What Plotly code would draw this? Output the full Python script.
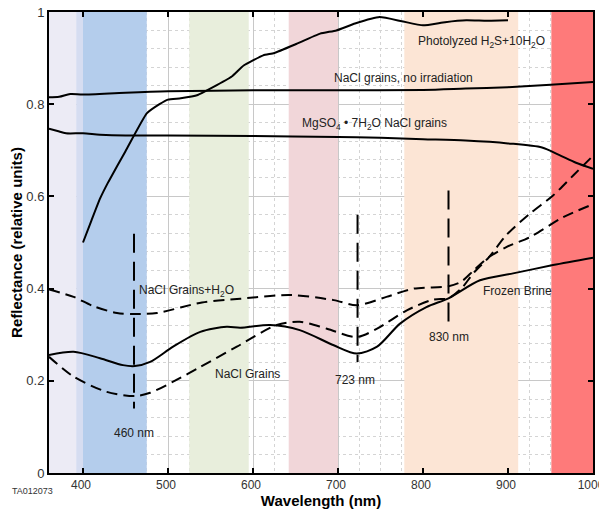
import plotly.graph_objects as go

# ---- data (wavelength nm, reflectance) ----
wl_noirr = [360, 372, 385, 400, 450, 500, 600, 700, 800, 850, 900, 950, 1000]
r_noirr = [0.815, 0.816, 0.822, 0.821, 0.825, 0.828, 0.830, 0.830, 0.831, 0.834, 0.837, 0.842, 0.848]

wl_mgso4 = [360, 370, 380, 400, 420, 450, 500, 600, 700, 750, 800, 850, 900, 940, 960, 980, 1000]
r_mgso4 = [0.747, 0.742, 0.737, 0.737, 0.734, 0.732, 0.732, 0.731, 0.729, 0.727, 0.724, 0.721, 0.715, 0.706, 0.690, 0.673, 0.660]

wl_h2s = [400, 410, 420, 430, 450, 475, 490, 500, 515, 535, 553, 575, 589, 612, 625, 650, 679, 698, 720, 749, 775, 800, 826, 851, 875, 900]
r_h2s = [0.500, 0.548, 0.595, 0.632, 0.698, 0.780, 0.800, 0.810, 0.813, 0.820, 0.837, 0.860, 0.884, 0.906, 0.911, 0.930, 0.953, 0.960, 0.975, 0.989, 0.980, 0.971, 0.978, 0.982, 0.981, 0.982]

wl_grains_h2o = [360, 389, 412, 440, 461, 487, 540, 585, 644, 695, 722, 757, 789, 830, 845, 860, 878, 898, 926, 965, 1000]
r_grains_h2o = [0.398, 0.382, 0.362, 0.347, 0.345, 0.347, 0.370, 0.378, 0.386, 0.375, 0.364, 0.382, 0.400, 0.405, 0.415, 0.440, 0.469, 0.490, 0.512, 0.555, 0.583]

wl_grains = [360, 389, 428, 461, 479, 506, 538, 581, 628, 655, 687, 722, 746, 781, 812, 830, 845, 860, 878, 898, 926, 953, 977, 1000]
r_grains = [0.252, 0.209, 0.176, 0.167, 0.174, 0.198, 0.230, 0.274, 0.321, 0.328, 0.313, 0.295, 0.313, 0.353, 0.376, 0.379, 0.400, 0.435, 0.469, 0.516, 0.563, 0.602, 0.646, 0.688]

wl_brine = [360, 389, 420, 447, 461, 479, 506, 538, 569, 585, 620, 655, 695, 722, 746, 773, 804, 830, 867, 906, 953, 1000]
r_brine = [0.256, 0.263, 0.249, 0.234, 0.232, 0.241, 0.274, 0.306, 0.317, 0.315, 0.321, 0.310, 0.277, 0.259, 0.274, 0.324, 0.360, 0.379, 0.418, 0.433, 0.451, 0.467]

# band markers
marker_wl = [460, 723, 830]
marker_top = [0.519, 0.560, 0.613]
marker_bot = [0.140, 0.241, 0.321]

# spectral bands (start, end, colour)
band_start = [360, 392, 400, 525, 642, 778, 951]
band_end = [392, 400, 475, 595, 700, 912, 1000]
band_color = ["#ecebf5", "#d6ddf1", "#b4cdec", "#e8eedc", "#f1d6d9", "#fce5d5", "#fe7a7a"]

x_ticks = [400, 500, 600, 700, 800, 900, 1000]
y_ticks = [0, 0.2, 0.4, 0.6, 0.8, 1.0]
y_tick_text = ["0", "0.2", "0.4", "0.6", "0.8", "1"]

# labels
lab_text = ["Photolyzed H<sub>2</sub>S+10H<sub>2</sub>O", "NaCl grains, no irradiation",
            "MgSO<sub>4</sub> \u2022 7H<sub>2</sub>O NaCl grains", "NaCl Grains+H<sub>2</sub>O",
            "Frozen Brine", "NaCl Grains", "460 nm", "723 nm", "830 nm"]
lab_x = [869, 777, 743, 522, 911, 593, 460, 720, 830]
lab_y = [0.935, 0.856, 0.756, 0.395, 0.394, 0.214, 0.086, 0.201, 0.294]

FONT = "Liberation Sans, Arial, sans-serif"

# page has an 8px body margin; size the figure so the plot lands where the reference has it
OFF = 8
W, H = 607, 514 - OFF
ML, MT = 49 - OFF, 12 - OFF
MR, MB = W + OFF - 593, 41
PW, PH = W - ML - MR, H - MT - MB

fig = go.Figure()

line_solid = dict(color="black", width=2, shape="spline", smoothing=0.8)
fig.add_trace(go.Scatter(x=wl_noirr, y=r_noirr, mode="lines", line=line_solid, showlegend=False))
fig.add_trace(go.Scatter(x=wl_mgso4, y=r_mgso4, mode="lines", line=line_solid, showlegend=False))
fig.add_trace(go.Scatter(x=wl_h2s, y=r_h2s, mode="lines", line=dict(color="black", width=2, shape="spline", smoothing=0.4), showlegend=False))
fig.add_trace(go.Scatter(x=wl_brine, y=r_brine, mode="lines", line=line_solid, showlegend=False))
fig.add_trace(go.Scatter(x=wl_grains_h2o, y=r_grains_h2o, mode="lines",
                         line=dict(color="black", width=2, dash="11px,6px", shape="spline", smoothing=0.8), showlegend=False))
fig.add_trace(go.Scatter(x=wl_grains, y=r_grains, mode="lines",
                         line=dict(color="black", width=2, dash="11px,6px", shape="spline", smoothing=0.8), showlegend=False))

for w, t, b in zip(marker_wl, marker_top, marker_bot):
    fig.add_trace(go.Scatter(x=[w, w], y=[t, b], mode="lines",
                             line=dict(color="black", width=2, dash="19px,9px"), showlegend=False))

shapes = []
for s, e, c in zip(band_start, band_end, band_color):
    shapes.append(dict(type="rect", xref="x", yref="y", x0=s, x1=e, y0=0, y1=1,
                       fillcolor=c, line=dict(width=0), layer="between"))

annotations = []
for t, x, y in zip(lab_text, lab_x, lab_y):
    annotations.append(dict(x=x, y=y, xref="x", yref="y", text=t, showarrow=False,
                            font=dict(family=FONT, size=12, color="#222")))
# "TA012073" at page pixel (10, 491)
annotations.append(dict(x=(10 - OFF - ML) / PW, y=(H - MB - (491 - OFF)) / PH, xref="paper", yref="paper",
                        text="TA012073", showarrow=False, xanchor="left", yanchor="middle",
                        font=dict(family=FONT, size=9, color="#333")))

fig.update_layout(
    width=W, height=H,
    margin=dict(l=ML, r=MR, t=MT, b=MB, autoexpand=False),
    paper_bgcolor="white", plot_bgcolor="white",
    shapes=shapes, annotations=annotations,
    showlegend=False,
)

fig.update_xaxes(
    range=[360, 1000], tickvals=x_ticks, ticks="inside", ticklen=5, tickcolor="black", tickwidth=1.5,
    showline=True, linecolor="black", linewidth=2, mirror="ticks", automargin=False,
    ticklabeloverflow="allow", ticklabelshift=-2,
    showgrid=True, gridcolor="#c8c8c8", gridwidth=1,
    minor=dict(dtick=25, tick0=0, showgrid=True, gridcolor="#d4d4d4", griddash="dot", gridwidth=1),
    tickfont=dict(family=FONT, size=12, color="#333"),
    title=dict(text="<b>Wavelength (nm)</b>", font=dict(family=FONT, size=15, color="black"), standoff=3),
    zeroline=False,
)
fig.update_yaxes(
    range=[0, 1], tickvals=y_ticks, ticktext=y_tick_text, ticks="inside", ticklen=5, tickcolor="black", tickwidth=1.5,
    showline=True, linecolor="black", linewidth=2, mirror="ticks", automargin=False,
    ticklabeloverflow="allow",
    showgrid=True, gridcolor="#c8c8c8", gridwidth=1,
    minor=dict(dtick=0.04, tick0=0, showgrid=True, gridcolor="#d4d4d4", griddash="dot", gridwidth=1),
    tickfont=dict(family=FONT, size=13, color="#333"),
    title=dict(text="<b>Reflectance (relative units)</b>", font=dict(family=FONT, size=15, color="black"), standoff=2),
    zeroline=False,
)

fig.write_html("out.html")
